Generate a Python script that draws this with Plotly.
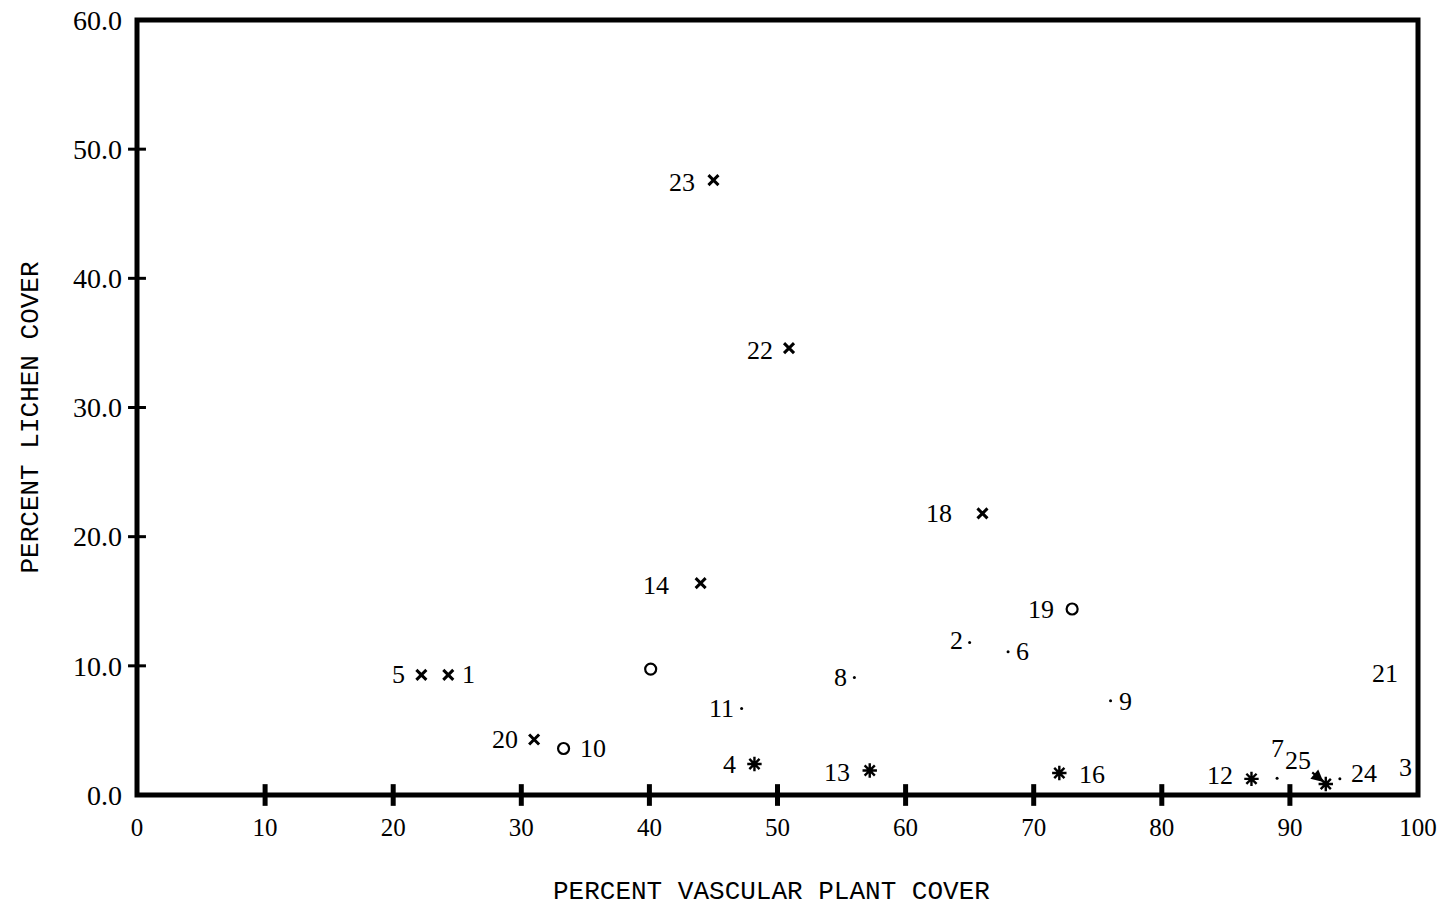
import plotly.graph_objects as go

# ---- data ----
site = ["5", "1", "20", "10", "", "23", "22", "14", "11", "4", "8", "13",
        "18", "2", "6", "19", "16", "9", "12", "7", "25", "24", "3", "21"]
vascular_cover = [22.2, 24.3, 31.0, 33.3, 40.1, 45.0, 50.9, 44.0, 47.2, 48.2, 56.0, 57.2,
                  66.0, 65.0, 68.0, 73.0, 72.0, 76.0, 87.0, 89.0, 92.8, 93.9, 100.0, 100.0]
lichen_cover = [9.3, 9.3, 4.3, 3.6, 9.75, 47.6, 34.6, 16.4, 6.7, 2.4, 9.1, 1.9,
                21.8, 11.8, 11.1, 14.4, 1.7, 7.3, 1.25, 1.3, 0.85, 1.25, 2.1, 9.4]
group = ["x", "x", "x", "o", "o", "x", "x", "x", ".", "*", ".", "*",
         "x", ".", ".", "o", "*", ".", "*", ".", "*", ".", ".", "."]

x_ticks = [0, 10, 20, 30, 40, 50, 60, 70, 80, 90, 100]
y_ticks = [0, 10, 20, 30, 40, 50, 60]
x_title = "PERCENT VASCULAR PLANT COVER"
y_title = "PERCENT LICHEN COVER"

# ---- styling ----
symbol_style = {
    "x": dict(symbol="x-thin-open", size=10, color="black", line=dict(width=3, color="black")),
    "o": dict(symbol="circle-open", size=11, color="black", line=dict(width=2.2, color="black")),
    "*": dict(symbol="asterisk-open", size=12, color="black", line=dict(width=2.4, color="black")),
    ".": dict(symbol="circle", size=3, color="black", line=dict(width=0)),
}
# label placement (side, pixel shift x, pixel shift y)
label_place = {
    "5": ("r", -14, 0), "1": ("l", 12, 0), "20": ("r", -14, 0), "10": ("l", 14, 0),
    "23": ("r", -16, -2), "22": ("r", -14, -2), "14": ("r", -30, -2), "11": ("r", -6, 0),
    "4": ("r", -16, 0), "8": ("r", -5, 0), "13": ("r", -18, -2), "18": ("r", -28, 0),
    "2": ("r", -5, 2), "6": ("l", 6, 0), "19": ("r", -16, 0), "16": ("l", 18, -1),
    "9": ("l", 6, -1), "12": ("r", -16, 3), "24": ("l", 9, 5), "3": ("r", -4, 0),
    "21": ("r", -18, 0),
}

SERIF = "Liberation Serif"
MONO = "Liberation Mono"
LABEL_FONT = dict(family=SERIF, size=26, color="black")
TITLE_FONT = dict(family=MONO, size=26, color="black")

fig = go.Figure()
for g in ["x", "o", "*", "."]:
    idx = [i for i, gg in enumerate(group) if gg == g]
    fig.add_trace(go.Scatter(
        x=[vascular_cover[i] for i in idx],
        y=[lichen_cover[i] for i in idx],
        mode="markers",
        marker=symbol_style[g],
        hovertext=[site[i] for i in idx],
        cliponaxis=False,
        showlegend=False,
    ))

for s, xv, yv in zip(site, vascular_cover, lichen_cover):
    if s in label_place:
        side, dx, dy = label_place[s]
        fig.add_annotation(x=xv, y=yv, text=s, showarrow=False,
                           xanchor="right" if side == "r" else "left",
                           yanchor="middle", xshift=dx, yshift=dy, font=LABEL_FONT)
    elif s == "7":
        fig.add_annotation(x=xv, y=yv, text=s, showarrow=False,
                           xanchor="center", yanchor="middle", xshift=0, yshift=30,
                           font=LABEL_FONT)
    elif s == "25":
        fig.add_annotation(x=xv, y=yv, text=s, showarrow=True,
                           ax=-28, ay=-24, arrowhead=2, arrowsize=1.1,
                           arrowwidth=2.2, arrowcolor="black", standoff=3,
                           font=LABEL_FONT)

# frame (centered on the plot edges)
fig.add_shape(type="rect", xref="paper", yref="paper", x0=0, x1=1, y0=0, y1=1,
              line=dict(color="black", width=5), layer="above")
# crossing tick marks
for t in x_ticks[1:-1]:
    fig.add_shape(type="line", xref="x", yref="y domain", x0=t, x1=t,
                  y0=-0.014, y1=0.014, line=dict(color="black", width=5))
for t in y_ticks[1:-1]:
    fig.add_shape(type="line", xref="x domain", yref="y", x0=-0.007, x1=0.007,
                  y0=t, y1=t, line=dict(color="black", width=3))

# axis titles
fig.add_annotation(text=x_title, xref="paper", yref="paper", x=0.5, y=0,
                   xanchor="center", yanchor="middle", xshift=-6, yshift=-97,
                   showarrow=False, font=TITLE_FONT)
fig.add_annotation(text=y_title, xref="paper", yref="paper", x=0, y=0.5,
                   xanchor="center", yanchor="middle", xshift=-107, yshift=-10,
                   textangle=-90, showarrow=False, font=TITLE_FONT)

fig.update_xaxes(
    range=[0, 100], tickvals=x_ticks, ticktext=[str(v) for v in x_ticks],
    showgrid=False, zeroline=False, showline=False,
    ticks="", ticklabelstandoff=15, ticklabeloverflow="allow",
    tickfont=dict(family=SERIF, size=25, color="black"),
    automargin=False,
)
fig.update_yaxes(
    range=[0, 60], tickvals=y_ticks, tickformat=".1f",
    showgrid=False, zeroline=False, showline=False,
    ticks="", ticklabelstandoff=14, ticklabeloverflow="allow",
    tickfont=dict(family=SERIF, size=28, color="black"),
    automargin=False,
)
fig.update_layout(
    width=1445, height=908,
    margin=dict(l=137, r=27, t=20, b=113),
    paper_bgcolor="white", plot_bgcolor="white",
)
fig.write_html("out.html",
               config={"displayModeBar": False},
               post_script="document.body.style.margin='0px';document.body.style.overflow='hidden';")
